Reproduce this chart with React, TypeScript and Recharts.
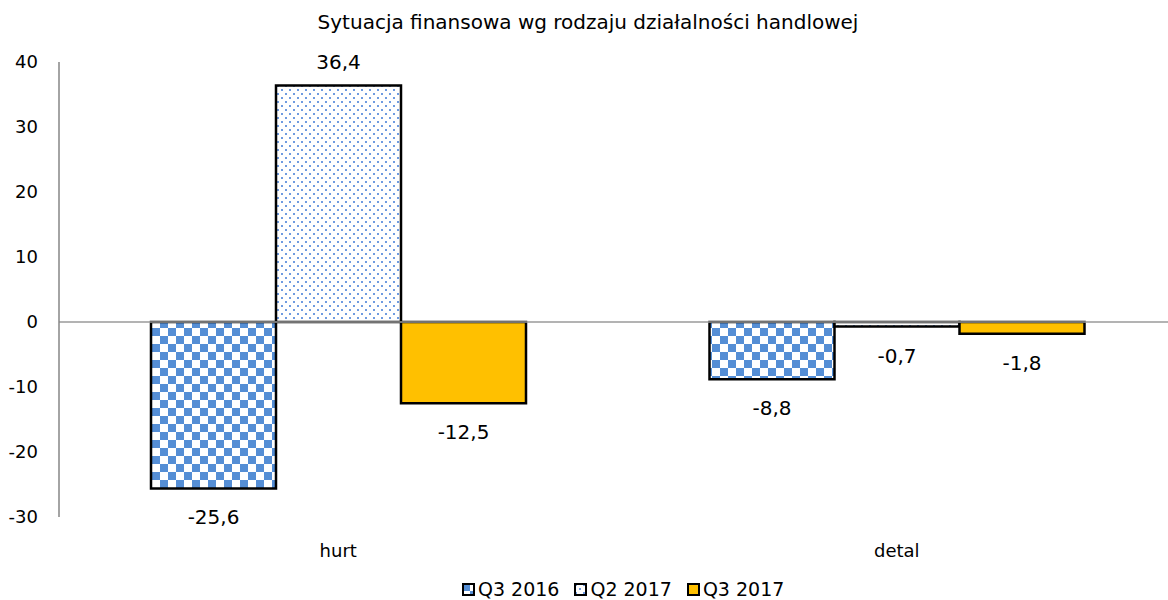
import { BarChart, Bar, XAxis, YAxis, ReferenceLine, LabelList } from 'recharts'

const categories = ['hurt', 'detal']
const q3of2016 = [-25.6, -8.8]
const q2of2017 = [36.4, -0.7]
const q3of2017 = [-12.5, -1.8]
const seriesNames = ['Q3 2016', 'Q2 2017', 'Q3 2017']
const yTicks = [-30, -20, -10, 0, 10, 20, 30, 40]

const data = categories.map((name, i) => ({
  name,
  a: q3of2016[i],
  b: q2of2017[i],
  c: q3of2017[i],
}))

const FONT = '"DejaVu Sans", Verdana, sans-serif'
const fills = ['url(#checker)', 'url(#dots)', '#ffc000']

const fmt = (v: number) => String(v).replace('.', ',')

// value labels: above positive bars, below negative ones
const renderLabel = (props: any) => {
  const { x, y, width, height, value } = props
  const top = Math.min(y, y + height)
  const bottom = Math.max(y, y + height)
  const ty = value >= 0 ? top - 23 : bottom + 29
  return (
    <text
      x={x + width / 2}
      y={ty}
      textAnchor="middle"
      dominantBaseline="central"
      fontFamily={FONT}
      fontSize={20}
      fill="#000"
    >
      {fmt(value)}
    </text>
  )
}

const CategoryTick = ({ x, y, payload }: any) => (
  <text x={x} y={y + 31} textAnchor="middle" dominantBaseline="central" fontFamily={FONT} fontSize={18} fill="#000">
    {payload.value}
  </text>
)

function Patterns() {
  return (
    <svg width={0} height={0} style={{ position: 'absolute' }}>
      <defs>
        <pattern id="checker" patternUnits="userSpaceOnUse" width={16} height={16}>
          <rect width={16} height={16} fill="#fff" />
          <rect x={0} y={0} width={8} height={8} fill="#558ed5" />
          <rect x={8} y={8} width={8} height={8} fill="#558ed5" />
        </pattern>
        <pattern id="dots" patternUnits="userSpaceOnUse" width={8} height={8}>
          <rect width={8} height={8} fill="#fff" />
          <rect x={1} y={1} width={2} height={2} fill="#6f9be0" />
          <rect x={5} y={5} width={2} height={2} fill="#6f9be0" />
        </pattern>
      </defs>
    </svg>
  )
}

export default function App() {
  return (
    <div style={{ position: 'absolute', left: 0, top: 0, width: 1168, height: 600, overflow: 'hidden', background: '#fff' }}>
      <Patterns />
      <div
        style={{
          position: 'absolute',
          top: 9,
          left: 0,
          width: 1176,
          textAlign: 'center',
          fontFamily: FONT,
          fontSize: 20,
          lineHeight: '26px',
        }}
      >
        Sytuacja finansowa wg rodzaju działalności handlowej
      </div>
      <BarChart
        width={1176}
        height={600}
        data={data}
        margin={{ top: 62, right: 0, bottom: 0, left: 0 }}
        barGap={0}
        barSize={125}
      >
        <XAxis dataKey="name" height={83} axisLine={false} tickLine={false} tickSize={0} tick={<CategoryTick />} />
        <YAxis
          width={59}
          domain={[-30, 40]}
          ticks={yTicks}
          tickSize={0}
          tickMargin={21}
          tickLine={false}
          axisLine={{ stroke: '#868686', strokeWidth: 1.5 }}
          tick={{ fontFamily: FONT, fontSize: 18, fill: '#000' }}
          interval={0}
        />
        <ReferenceLine y={0} stroke="#9a9a9a" strokeWidth={1.5} />
        {(['a', 'b', 'c'] as const).map((k, i) => (
          <Bar key={k} dataKey={k} name={seriesNames[i]} fill={fills[i]} stroke="#000" strokeWidth={2.5} isAnimationActive={false}>
            <LabelList dataKey={k} content={renderLabel} />
          </Bar>
        ))}
      </BarChart>
      <div
        style={{
          position: 'absolute',
          top: 578,
          left: 462,
          display: 'flex',
          gap: 15,
          fontFamily: FONT,
          fontSize: 19,
          lineHeight: '22px',
          whiteSpace: 'nowrap',
        }}
      >
        {seriesNames.map((n, i) => (
          <div key={n} style={{ display: 'flex', alignItems: 'center', gap: 3 }}>
            <svg width={13} height={13}>
              <rect x={1} y={1} width={11} height={11} fill={fills[i]} stroke="#000" strokeWidth={2} />
            </svg>
            <span>{n}</span>
          </div>
        ))}
      </div>
    </div>
  )
}
